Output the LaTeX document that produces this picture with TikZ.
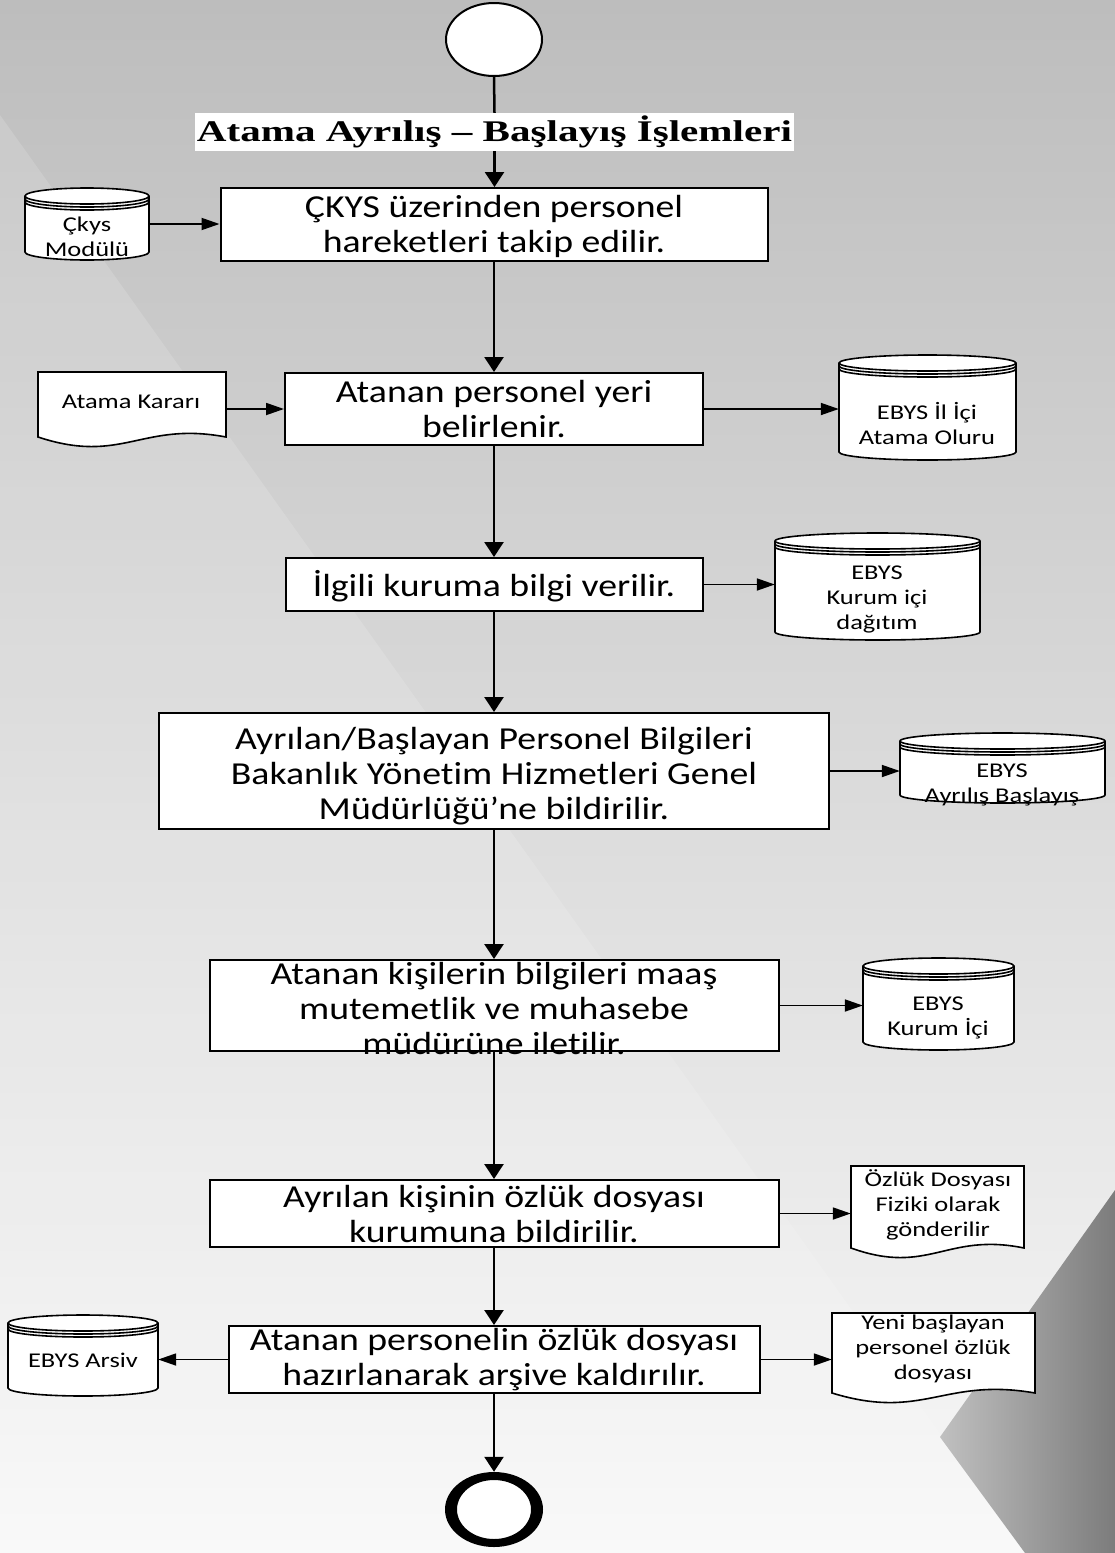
\documentclass[tikz,border=0pt]{standalone}
\usepackage{fontspec}
\usetikzlibrary{arrows.meta,shapes.geometric,calc}

\newfontfamily\bodyfont[FakeStretch=1.18, Ligatures=NoCommon]{Carlito}
\newfontfamily\sidebody[FakeStretch=1.26, Ligatures=NoCommon]{Carlito}
\newfontfamily\headfont[FakeStretch=1.37]{Liberation Serif}
\newcommand\procfont{\bodyfont\fontsize{32}{35}\selectfont}
\newcommand\sidefont{\sidebody\fontsize{21}{25}\selectfont}

\definecolor{bgtop}{HTML}{BDBDBD}
\definecolor{bgmid}{HTML}{D9D9D9}
\definecolor{bgbot}{HTML}{F8F8F8}
\definecolor{facetlight}{HTML}{C0C0C0}
\definecolor{facetdark}{HTML}{7C7C7C}

% data store drum: name, x1, y1, x2, y2 (y grows downwards)
\newcommand\diskstore[5]{%
  \pgfmathsetmacro\dsrx{(#4-#2)/2}%
  \pgfmathsetmacro\dsw{#4-#2}%
  \pgfmathsetmacro\dsh{#5-#3}%
  \filldraw[shapefill] ({#2},{#3+8}) -- ({#2},{#5-8})
    arc[start angle=180,end angle=360,x radius=\dsrx pt,y radius=8pt]
    -- ({#4},{#3+8})
    arc[start angle=0,end angle=180,x radius=\dsrx pt,y radius=8pt] -- cycle;
  \foreach \dsoff in {0,3,6}{%
    \draw[shapeedge] ({#2},{#3+8+\dsoff})
      arc[start angle=180,end angle=360,x radius=\dsrx pt,y radius=8pt];}
  \node[hook, minimum width=\dsw pt, minimum height=\dsh pt] (#1)
    at ({(#2+#4)/2},{(#3+#5)/2}) {};
}

% document sheet with wavy lower edge: name, x1, y1, x2, y of lower corners
\newcommand\docpage[5]{%
  \pgfmathsetmacro\dpw{#4-#2}%
  \pgfmathsetmacro\dph{#5-#3}%
  \filldraw[shapefill] ({#2},{#3}) -- ({#4},{#3}) -- ({#4},{#5})
    .. controls ({#2+0.55*(#4-#2)},{#5-16}) and ({#2+0.45*(#4-#2)},{#5+28}) .. ({#2},{#5})
    -- cycle;
  \node[hook, minimum width=\dpw pt, minimum height=\dph pt] (#1)
    at ({(#2+#4)/2},{(#3+#5)/2}) {};
}

\begin{document}
\begin{tikzpicture}[x=1pt,y=-1pt,
  shapefill/.style={draw=black, fill=white, line width=1.6pt},
  shapeedge/.style={draw=black, line width=1.6pt},
  procbox/.style={rectangle, draw=black, fill=white, line width=2pt, inner sep=0pt},
  proctext/.style={inner sep=0pt, align=center, font=\procfont},
  sidetext/.style={inner sep=0pt, align=center, font=\sidefont},
  hook/.style={rectangle, draw=none, inner sep=0pt},
  vconn/.style={line width=2.5pt, -{Triangle[length=15pt,width=19pt]}},
  hconn/.style={line width=1.8pt, -{Triangle[length=18pt,width=12pt]}},
  vline/.style={line width=2.5pt},
]
\useasboundingbox (0,0) rectangle (1115,1553);

% backdrop facets
\shade[top color=bgtop, middle color=bgmid, bottom color=bgbot] (0,0) rectangle (1115,1553);
\fill[white, opacity=0.15] (0,115) -- (1025,1553) -- (0,1553) -- cycle;
\shade[left color=facetlight, right color=facetdark]
  (1115,1190) -- (940,1437) -- (1025,1553) -- (1115,1553) -- cycle;

% terminals and title
\node[ellipse, draw=black, fill=white, line width=2pt, inner sep=0pt,
  minimum width=96pt, minimum height=73pt] (start) at (494,39.5) {};
\node[fill=white, inner sep=0pt, minimum width=599pt, minimum height=38pt,
  font=\headfont\bfseries\fontsize{30}{34}\selectfont] (title) at (494.5,132)
  {Atama Ayrılış – Başlayış İşlemleri};

% process steps
\node[procbox, minimum width=547pt, minimum height=73pt] (b1) at (494,224.5) {};
\node[proctext] (b1t) at (494,226)
  {ÇKYS üzerinden personel\\hareketleri takip edilir.};
\node[procbox, minimum width=418pt, minimum height=72pt] (b2) at (494,409) {};
\node[proctext] (b2t) at (494,409)
  {Atanan personel yeri\\belirlenir.};
\node[procbox, minimum width=417pt, minimum height=53pt] (b3) at (494,584.5) {};
\node[proctext] (b3t) at (494,586)
  {İlgili kuruma bilgi verilir.};
\node[procbox, minimum width=670pt, minimum height=116pt] (b4) at (494,771) {};
\node[proctext] (b4t) at (494,776)
  {Ayrılan/Başlayan Personel Bilgileri\\Bakanlık Yönetim Hizmetleri Genel\\Müdürlüğü’ne bildirilir.};
\node[procbox, minimum width=569pt, minimum height=91pt] (b5) at (494,1005.5) {};
\node[proctext] (b5t) at (494,1009)
  {Atanan kişilerin bilgileri maaş\\mutemetlik ve muhasebe\\müdürüne iletilir.};
\node[procbox, minimum width=569pt, minimum height=67pt] (b6) at (494,1213.5) {};
\node[proctext] (b6t) at (494,1214)
  {Ayrılan kişinin özlük dosyası\\kurumuna bildirilir.};
\node[procbox, minimum width=531pt, minimum height=67pt] (b7) at (494,1359.5) {};
\node[proctext] (b7t) at (494,1360)
  {Atanan personelin özlük dosyası\\hazırlanarak arşive kaldırılır.};

% end terminal: heavy ring
\node[ellipse, fill=white, draw=none, inner sep=0pt,
  minimum width=98pt, minimum height=75pt] (stop) at (494,1509.5) {};
\fill[black, even odd rule]
  (stop.center) ellipse [x radius=49pt, y radius=37.5pt]
  (stop.center) ellipse [x radius=37pt, y radius=29.5pt];

% side stores and documents
\diskstore{cky}{25}{188}{149}{260}
\node[sidetext] (ckyt) at (87,237) {Çkys\\Modülü};

\docpage{ak}{38}{372}{226}{437}
\node[sidetext] (akt) at (131,402) {Atama Kararı};

\diskstore{il}{839}{355}{1016}{460}
\node[sidetext] (ilt) at (927,424) {EBYS İl İçi\\Atama Oluru};

\diskstore{kd}{775}{533}{980}{640}
\node[sidetext] (kdt) at (877,599) {EBYS\\Kurum içi\\dağıtım};

\diskstore{ab}{900}{733}{1105}{803}
\node[sidetext] (abt) at (1002,785) {EBYS\\Ayrılış Başlayış};

\diskstore{ki}{863}{958}{1014}{1050}
\node[sidetext] (kit) at (938,1018) {EBYS\\Kurum İçi};

\docpage{oz}{851}{1166}{1024}{1248}
\node[sidetext] (ozt) at (938,1205) {Özlük Dosyası\\Fiziki olarak\\gönderilir};

\diskstore{ar}{8}{1315}{158}{1396}
\node[sidetext] (art) at (83,1360) {EBYS Arsiv};

\docpage{yb}{832}{1313}{1035}{1393}
\node[sidetext] (ybt) at (933,1349) {Yeni başlayan\\personel özlük\\dosyası};

% main flow
\draw[vline] (start.south) -- (title.north);
\draw[vconn] (title.south) -- (title.south |- b1.north);
\draw[vconn] (b1.south) -- (b2.north);
\draw[vconn] (b2.south) -- (b3.north);
\draw[vconn] (b3.south) -- (b4.north);
\draw[vconn] (b4.south) -- (b5.north);
\draw[vconn] (b5.south) -- (b6.north);
\draw[vconn] (b6.south) -- (b7.north);
\draw[vconn] (b7.south) -- (stop.north);

% side flows
\draw[hconn] (cky.east) -- (cky.east -| b1.west);
\draw[hconn] (b2.west -| ak.east) -- (b2.west);
\draw[hconn] (b2.east) -- (b2.east -| il.west);
\draw[hconn] (b3.east) -- (b3.east -| kd.west);
\draw[hconn] (b4.east) -- (b4.east -| ab.west);
\draw[hconn] (b5.east) -- (b5.east -| ki.west);
\draw[hconn] (b6.east) -- (b6.east -| oz.west);
\draw[hconn] (b7.west) -- (b7.west -| ar.east);
\draw[hconn] (b7.east) -- (b7.east -| yb.west);
\end{tikzpicture}
\end{document}
